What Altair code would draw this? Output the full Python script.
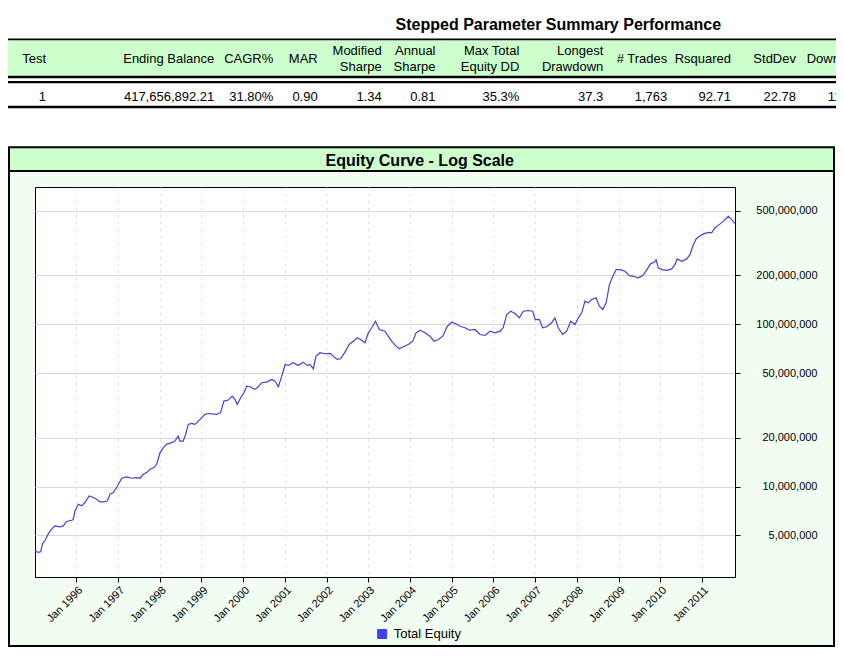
import altair as alt
import pandas as pd

# ---------------- data ----------------
dates = [
    "1995-01-04", "1995-02-02", "1995-02-23", "1995-03-10", "1995-03-31", "1995-04-29",
    "1995-05-29", "1995-06-27", "1995-08-10", "1995-09-08", "1995-10-08", "1995-11-21",
    "1995-12-05", "1995-12-20", "1996-01-18", "1996-02-17", "1996-03-16", "1996-04-23",
    "1996-05-28", "1996-06-27", "1996-07-26", "1996-08-24", "1996-09-28", "1996-10-22",
    "1996-11-20", "1996-12-19", "1997-02-02", "1997-03-16", "1997-04-29", "1997-06-12",
    "1997-07-11", "1997-08-09", "1997-09-08", "1997-10-07", "1997-11-11", "1997-12-05",
    "1998-01-03", "1998-02-01", "1998-03-01", "1998-04-14", "1998-05-13", "1998-06-11",
    "1998-06-26", "1998-07-25", "1998-08-15", "1998-09-07", "1998-10-07", "1998-11-05",
    "1998-12-04", "1999-01-03", "1999-02-01", "1999-03-06", "1999-05-13", "1999-06-17",
    "1999-07-16", "1999-08-23", "1999-09-27", "1999-10-21", "1999-11-10", "1999-12-10",
    "2000-01-08", "2000-02-01", "2000-03-01", "2000-04-13", "2000-05-12", "2000-06-11",
    "2000-07-25", "2000-09-07", "2000-10-06", "2000-11-04", "2000-12-04", "2001-01-02",
    "2001-01-31", "2001-03-14", "2001-04-27", "2001-06-10", "2001-07-15", "2001-08-08",
    "2001-09-06", "2001-09-30", "2001-11-04", "2001-12-18", "2002-01-31", "2002-02-28",
    "2002-04-03", "2002-05-03", "2002-06-10", "2002-07-18", "2002-08-22", "2002-09-26",
    "2002-11-04", "2002-12-03", "2003-01-01", "2003-01-31", "2003-03-05", "2003-04-06",
    "2003-05-26", "2003-06-24", "2003-07-24", "2003-09-01", "2003-09-29", "2003-11-03",
    "2003-12-17", "2004-01-25", "2004-02-23", "2004-03-28", "2004-05-11", "2004-06-24",
    "2004-07-29", "2004-09-05", "2004-10-14", "2004-11-23", "2005-01-01", "2005-02-08",
    "2005-03-13", "2005-04-26", "2005-06-09", "2005-07-23", "2005-09-05", "2005-10-19",
    "2005-12-02", "2006-01-15", "2006-02-28", "2006-03-27", "2006-04-26", "2006-06-01",
    "2006-07-08", "2006-08-15", "2006-09-19", "2006-11-02", "2006-12-11", "2007-01-01",
    "2007-02-07", "2007-03-07", "2007-04-11", "2007-05-25", "2007-06-23", "2007-07-22",
    "2007-08-30", "2007-10-04", "2007-11-08", "2007-12-16", "2008-01-14", "2008-02-13",
    "2008-03-12", "2008-04-10", "2008-05-10", "2008-06-17", "2008-07-16", "2008-08-15",
    "2008-09-13", "2008-09-24", "2008-10-12", "2008-11-11", "2008-12-10", "2009-01-14",
    "2009-02-27", "2009-04-04", "2009-05-09", "2009-06-22", "2009-08-01", "2009-09-05",
    "2009-10-09", "2009-11-08", "2009-11-25", "2009-12-15", "2010-01-14", "2010-02-27",
    "2010-04-10", "2010-05-09", "2010-05-29", "2010-07-07", "2010-08-20", "2010-09-18",
    "2010-10-12", "2010-11-10", "2010-12-09", "2011-01-20", "2011-02-26", "2011-03-26",
    "2011-04-24", "2011-06-01", "2011-07-06", "2011-08-19", "2011-09-18", "2011-10-17",
]
equity_millions = [
    4.00, 3.93, 3.96, 4.42, 4.63, 5.09,
    5.46, 5.72, 5.64, 5.72, 6.09, 6.20,
    6.25, 7.08, 7.78, 7.60, 7.97, 8.75,
    8.56, 8.35, 8.04, 8.04, 8.15, 8.97,
    9.19, 9.86, 11.25, 11.46, 11.25, 11.36,
    11.25, 11.90, 12.19, 12.78, 13.09, 13.72,
    16.19, 17.38, 18.21, 18.65, 19.08, 20.48,
    19.08, 19.08, 20.98, 24.17, 24.52, 24.17,
    25.33, 26.58, 27.86, 28.20, 27.86, 28.53,
    33.64, 34.12, 36.10, 34.45, 32.10, 35.29,
    37.88, 41.60, 41.25, 39.70, 41.25, 43.65,
    44.02, 45.74, 44.65, 41.25, 47.93, 56.56,
    55.78, 57.96, 55.78, 58.45, 55.78, 56.56,
    53.22, 63.64, 66.77, 65.84, 66.12, 63.64,
    60.73, 61.33, 67.34, 75.10, 78.70, 82.58,
    79.83, 76.94, 88.66, 95.17, 104.5, 92.90,
    90.69, 84.51, 78.70, 73.33, 70.68, 72.71,
    75.10, 78.70, 88.66, 91.99, 88.66, 84.51,
    78.70, 80.62, 84.51, 97.35, 103.0, 100.7,
    97.35, 95.17, 91.99, 92.90, 86.55, 85.34,
    90.69, 88.66, 90.69, 95.17, 114.9, 120.4,
    116.6, 109.6, 120.4, 121.6, 120.4, 107.0,
    107.0, 95.17, 96.52, 102.1, 109.6, 95.17,
    86.55, 90.69, 104.5, 99.72, 109.6, 117.7,
    138.8, 135.6, 142.1, 145.6, 129.2, 123.3,
    135.6, 148.9, 175.8, 197.7, 217.4, 217.4,
    212.3, 199.7, 197.7, 193.3, 199.7, 217.4,
    236.7, 241.1, 250.5, 222.7, 217.4, 215.2,
    219.5, 233.3, 253.0, 244.5, 253.0, 268.9,
    302.4, 335.9, 348.5, 362.1, 368.8, 365.7,
    392.6, 411.4, 431.1, 462.6, 441.5, 417.7,
]
series_name = "Total Equity"

y_tick_values = [5_000_000, 10_000_000, 20_000_000, 50_000_000,
                 100_000_000, 200_000_000, 500_000_000]
x_tick_years = list(range(1996, 2012))

table_title = "Stepped Parameter Summary Performance"
chart_title = "Equity Curve - Log Scale"
header_single = ["Test", "Ending Balance", "CAGR%", "MAR", "", "", "", "",
                 "# Trades", "Rsquared", "StdDev", "DownDev"]
header_top = ["", "", "", "", "Modified", "Annual", "Max Total", "Longest",
              "", "", "", ""]
header_bottom = ["", "", "", "", "Sharpe", "Sharpe", "Equity DD", "Drawdown",
                 "", "", "", ""]
row_values = ["1", "417,656,892.21", "31.80%", "0.90", "1.34", "0.81", "35.3%",
              "37.3", "1,763", "92.71", "22.78", "11."]

# ---------------- styling / layout ----------------
FONT = "Liberation Sans"
PANEL = "#f2fdf2"
BAND = "#ccffcc"
LINE = "#4242d8"
W, H = 700, 390
N_COLS = len(header_single)
# text anchor of every table column, relative to the plot origin (px):
# right edges for the fully visible columns, left edge for the clipped last one
col_anchor_px = [11, 179.3, 238.3, 282.7, 346.7, 400.5, 484.3, 568.3,
                 632.3, 696, 761, 771.7]

eq = pd.DataFrame({
    "date": dates,
    "equity": [v * 1_000_000 for v in equity_millions],
    "series": [series_name] * len(dates),
})
table = pd.DataFrame({
    "col": list(range(N_COLS)),
    "single": header_single,
    "top": header_top,
    "bottom": header_bottom,
    "value": row_values,
})
one = pd.DataFrame({"k": [0]})


def box(x1, x2, y1, y2, color):
    return alt.Chart(one).mark_rect(color=color).encode(
        x=alt.value(x1), x2=alt.value(x2), y=alt.value(y1), y2=alt.value(y2))


def label(txt, x, y, size=16, weight="bold"):
    return alt.Chart(one).mark_text(
        font=FONT, fontSize=size, fontWeight=weight, color="black",
        align="center", baseline="middle").encode(
        x=alt.value(x), y=alt.value(y), text=alt.value(txt))


def table_text(field, y, last=False, dx=0):
    cond = f"datum.col {'==' if last else '<'} {N_COLS - 1}"
    return alt.Chart(table).transform_filter(cond).mark_text(
        font=FONT, fontSize=13, color="black",
        align="left" if last else "right", baseline="middle", dx=dx).encode(
        x=alt.X("col:Q", axis=None,
                scale=alt.Scale(domain=list(range(N_COLS)),
                                range=col_anchor_px, zero=False, nice=False)),
        y=alt.value(y),
        text=alt.Text(f"{field}:N"),
    )


decor = [
    # white page area above and around the equity panel
    box(-35, 809, -187, -39.7, "white"),
    box(799, 809, -40, 470, "white"),
    box(-35, 809, 459.5, 470, "white"),
    # summary table band and rules
    box(-35, 809, -148.5, -146.5, "black"),
    box(-35, 809, -146.5, -111.3, BAND),
    box(-35, 809, -111.3, -108.7, "black"),
    box(-35, 809, -106, -103.7, "black"),
    box(-35, 809, -81.3, -78.7, "black"),
    # equity panel title bar and frame
    box(-26, 799, -39.7, -17, BAND),
    box(-26, 799, -17, -15, "black"),
    alt.Chart(one).mark_rect(fill="transparent", stroke="black", strokeWidth=2).encode(
        x=alt.value(-26), x2=alt.value(799), y=alt.value(-39.7), y2=alt.value(459)),
    label(table_title, 523.3, -162),
    label(chart_title, 384.7, -26.3),
]

texts = [
    table_text("single", -128),
    table_text("top", -136.3),
    table_text("bottom", -120.3),
    table_text("value", -89.7),
    table_text("single", -128, last=True),
    table_text("value", -89.7, last=True, dx=21),
]

line = alt.Chart(eq).mark_line(strokeWidth=1.2, clip=True).encode(
    x=alt.X(
        "date:T",
        scale=alt.Scale(domain=[alt.DateTime(year=1995, month=1, date=4),
                                alt.DateTime(year=2011, month=10, date=17)],
                        nice=False),
        axis=alt.Axis(
            title=None, format="%b %Y",
            values=[alt.DateTime(year=y, month=1, date=1) for y in x_tick_years],
            labelAngle=-45, labelFontSize=11, labelPadding=2, tickSize=5,
            labelOverlap=False, labelFlush=False,
            grid=True, gridDash=[1, 6], gridColor="#b8b8b8", gridWidth=1),
    ),
    y=alt.Y(
        "equity:Q",
        scale=alt.Scale(type="log", domain=[2_770_000, 702_000_000], nice=False),
        axis=alt.Axis(
            title=None, orient="right", values=y_tick_values, format=",d",
            labelFontSize=11, labelAlign="right", labelBaseline="middle",
            labelPadding=77, tickSize=5, labelOverlap=False, labelFlush=False,
            grid=True, gridColor="#d9d9d9", gridWidth=1),
    ),
    color=alt.Color(
        "series:N", scale=alt.Scale(range=[LINE]),
        legend=alt.Legend(
            title=None, orient="none", legendX=340.7, legendY=440.5,
            symbolType="square", symbolSize=81, symbolFillColor="#4040ff",
            symbolStrokeColor="#1c1c80", symbolStrokeWidth=1, symbolOpacity=1,
            labelFontSize=13, labelFont=FONT, labelColor="black",
            labelOffset=5, padding=0),
    ),
)

chart = alt.layer(*decor, *texts, line).resolve_scale(
    x="independent", y="independent"
).properties(
    width=W, height=H,
    padding={"left": 27, "top": 179, "right": 101, "bottom": 71},
    autosize=alt.AutoSizeParams(type="none"),
    background=PANEL,
).configure_view(
    fill="white", stroke="black", strokeWidth=1
).configure_axis(
    domainColor="black", tickColor="black", labelColor="black", labelFont=FONT
)

chart.save("out.html", embed_options={"renderer": "svg", "actions": False})
